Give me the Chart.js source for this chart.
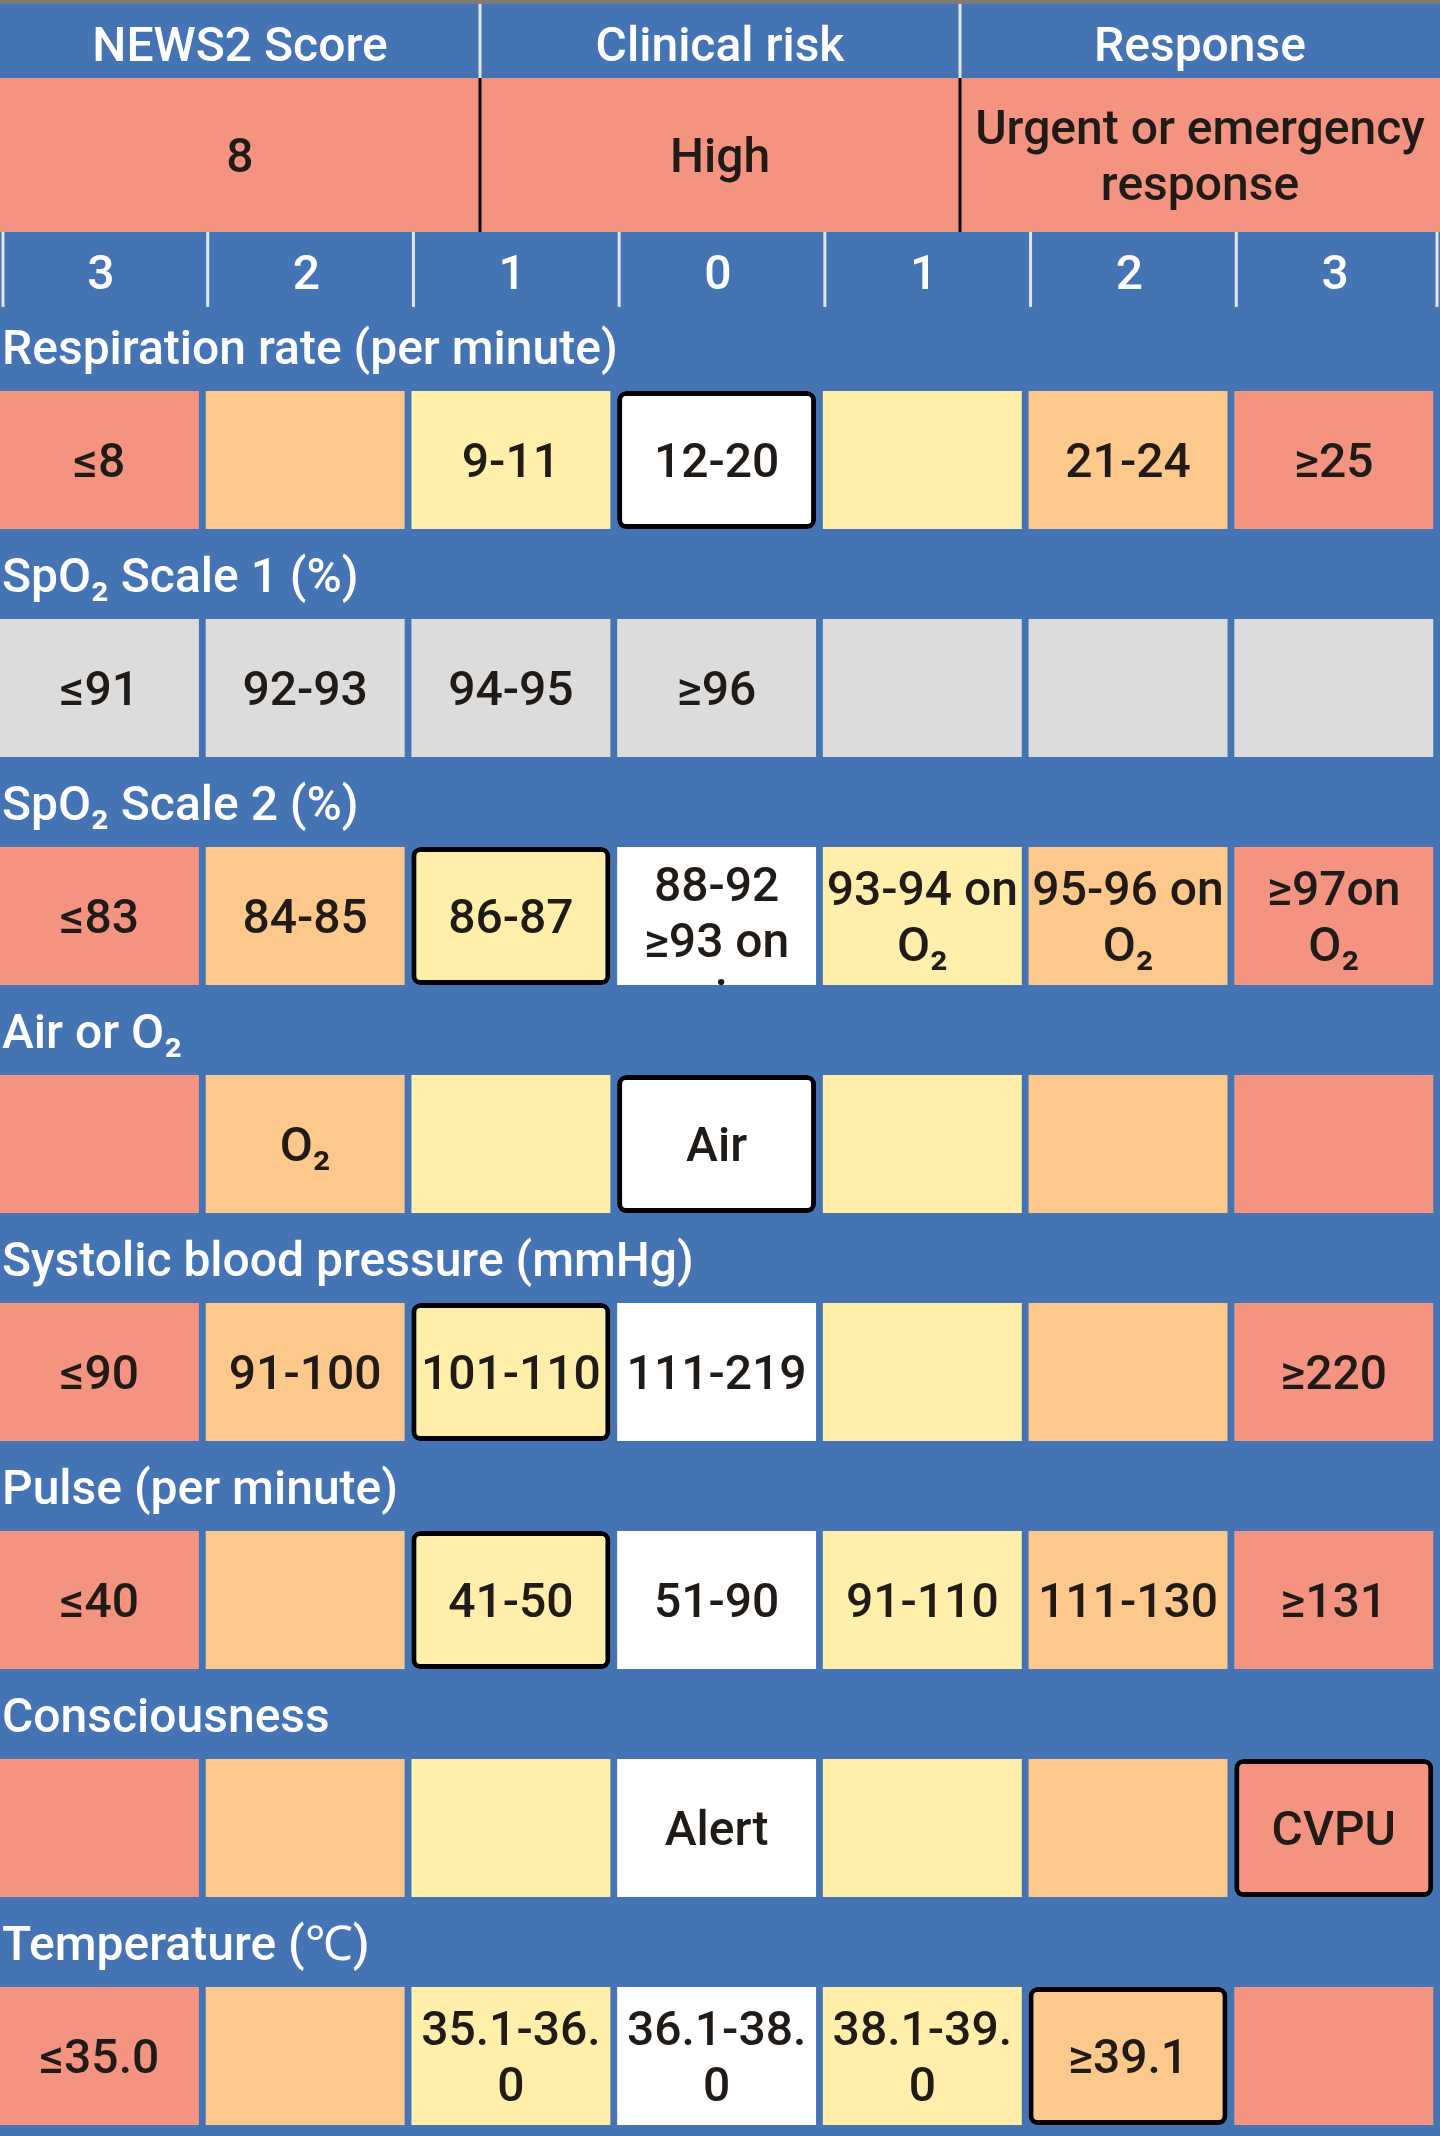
<!DOCTYPE html>
<html>
<head>
<meta charset="utf-8">
<script src="https://cdn.jsdelivr.net/npm/chart.js@4.4.1/dist/chart.umd.min.js"></script>
<style>
  html, body { margin: 0; padding: 0; background: #4574B5; }
  #wrap { position: relative; width: 1440px; height: 2136px; }
</style>
</head>
<body>
<div id="wrap"><canvas id="news2"></canvas></div>
<script>
// NEWS2 chart: one row of bands per observation, columns are the score bands
const scoreColumns = [3, 2, 1, 0, 1, 2, 3];
const summaryTitles = ['NEWS2 Score', 'Clinical risk', 'Response'];
const summaryValues = ['8', 'High', 'Urgent or emergency response'];

const parameters = [
  'Respiration rate (per minute)',
  'SpO₂ Scale 1 (%)',
  'SpO₂ Scale 2 (%)',
  'Air or O₂',
  'Systolic blood pressure (mmHg)',
  'Pulse (per minute)',
  'Consciousness',
  'Temperature (℃)'
];

const respiration = ['≤8', '', '9-11', '12-20', '', '21-24', '≥25'];
const spo2Scale1 = ['≤91', '92-93', '94-95', '≥96', '', '', ''];
const spo2Scale2 = ['≤83', '84-85', '86-87', '88-92 ≥93 on air', '93-94 on O₂', '95-96 on O₂', '≥97on O₂'];
const airOrO2 = ['', 'O₂', '', 'Air', '', '', ''];
const systolic = ['≤90', '91-100', '101-110', '111-219', '', '', '≥220'];
const pulse = ['≤40', '', '41-50', '51-90', '91-110', '111-130', '≥131'];
const consciousness = ['', '', '', 'Alert', '', '', 'CVPU'];
const temperature = ['≤35.0', '', '35.1-36.0', '36.1-38.0', '38.1-39.0', '≥39.1', ''];

const rows = [respiration, spo2Scale1, spo2Scale2, airOrO2, systolic, pulse, consciousness, temperature];

// picked column per row (-1 = nothing picked); greyed rows are not in use
const selected = [3, -1, 2, 3, 2, 2, 6, 5];
const inactiveRows = [1];

// colours
const BLUE = '#4574B5';
const GREY = '#DCDCDC';
const INK = '#211B17';
const bandColors = { 3: '#F39380', 2: '#FDC88C', 1: '#FFEFAA', 0: '#FFFFFF' };

// layout, in axis units (1 y unit = one observation row)
const Y_MIN = -1.3202, Y_MAX = 8.048;
const LABEL_H = 0.395;   // label strip above the cells
const CELL_W = 0.967;    // cell width as part of a column
const HEAD = { top: -1.3026, title: -0.978, risk: -0.3026, score: 0.026 };
const FONT = '500 48px Roboto';
const CAP_HALF = 17;     // half the cap height at 48px
const LINE_H = 56;

function wrapText(ctx, text, maxWidth) {
  const lines = [];
  let line = '';
  for (const word of text.split(' ')) {
    const trial = line ? line + ' ' + word : word;
    if (ctx.measureText(trial).width <= maxWidth) { line = trial; continue; }
    if (line) lines.push(line);
    let chunk = '';
    for (const ch of word) {
      if (chunk && ctx.measureText(chunk + ch).width > maxWidth) { lines.push(chunk); chunk = ch; }
      else chunk += ch;
    }
    line = chunk;
  }
  if (line) lines.push(line);
  return lines;
}

function drawBlock(ctx, text, cx, top, bottom, maxWidth) {
  const lines = wrapText(ctx, text, maxWidth);
  const blockH = lines.length * LINE_H;
  let first = (top + bottom) / 2 - (lines.length - 1) * LINE_H / 2;
  if (blockH > bottom - top) first = top + 9 + LINE_H / 2;
  lines.forEach((l, k) => ctx.fillText(l, cx, first + k * LINE_H + CAP_HALF));
}

const tablePlugin = {
  id: 'news2Table',
  beforeDraw(chart) {
    const { ctx, width, height } = chart;
    const { x, y } = chart.scales;
    ctx.save();
    ctx.fillStyle = BLUE;
    ctx.fillRect(0, 0, width, height);
    ctx.fillStyle = '#7B7B7B';
    ctx.fillRect(0, 0, width, y.getPixelForValue(HEAD.top));

    const left = x.getPixelForValue(0), right = x.getPixelForValue(7);
    const yTitle = y.getPixelForValue(HEAD.top), yRisk0 = y.getPixelForValue(HEAD.title);
    const yRisk1 = y.getPixelForValue(HEAD.risk), yScore1 = y.getPixelForValue(HEAD.score);

    // summary band, coloured by its risk
    ctx.fillStyle = bandColors[3];
    ctx.fillRect(left, yRisk0, right - left, yRisk1 - yRisk0);

    ctx.lineWidth = 3;
    for (let k = 1; k < 3; k++) {
      const px = x.getPixelForValue(7 * k / 3);
      ctx.strokeStyle = '#E3E7EE';
      ctx.beginPath(); ctx.moveTo(px, yTitle); ctx.lineTo(px, yRisk0); ctx.stroke();
      ctx.strokeStyle = '#000';
      ctx.beginPath(); ctx.moveTo(px, yRisk0); ctx.lineTo(px, yRisk1); ctx.stroke();
    }
    ctx.strokeStyle = '#E3E7EE';
    for (let c = 0; c <= 7; c++) {
      const px = Math.min(Math.max(x.getPixelForValue(c) + 2, 3), width - 3);
      ctx.beginPath(); ctx.moveTo(px, yRisk1); ctx.lineTo(px, yScore1); ctx.stroke();
    }

    ctx.font = FONT;
    ctx.textAlign = 'center';
    ctx.textBaseline = 'alphabetic';
    summaryTitles.forEach((t, k) => {
      const cx = x.getPixelForValue(7 * (k + 0.5) / 3);
      ctx.fillStyle = '#FFFFFF';
      ctx.fillText(t, cx, (yTitle + yRisk0) / 2 + 3 + CAP_HALF);
      ctx.fillStyle = INK;
      drawBlock(ctx, summaryValues[k], cx, yRisk0, yRisk1, x.getPixelForValue(7 / 3) - 10);
    });
    ctx.fillStyle = '#FFFFFF';
    scoreColumns.forEach((s, c) => {
      ctx.fillText(String(s), x.getPixelForValue(c + 0.49), y.getPixelForValue(-0.127) + CAP_HALF);
    });

    ctx.textAlign = 'left';
    parameters.forEach((p, i) => {
      ctx.fillText(p, left + 2, y.getPixelForValue(i + 0.2018) + CAP_HALF);
    });
    ctx.restore();
  },
  afterDatasetsDraw(chart) {
    const { ctx } = chart;
    ctx.save();
    ctx.font = FONT;
    ctx.textAlign = 'center';
    ctx.textBaseline = 'alphabetic';
    ctx.fillStyle = INK;
    chart.data.datasets.forEach((ds, i) => {
      chart.getDatasetMeta(i).data.forEach((bar, c) => {
        const text = rows[i][c];
        if (!text) return;
        const { x, y, base, width } = bar.getProps(['x', 'y', 'base', 'width'], true);
        const top = Math.min(y, base), bottom = Math.max(y, base);
        ctx.save();
        ctx.beginPath();
        ctx.rect(x - width / 2, top, width, bottom - top);
        ctx.clip();
        drawBlock(ctx, text, x, top, bottom, width - 3);
        ctx.restore();
      });
    });
    ctx.restore();
  }
};

const datasets = rows.map((cells, i) => ({
  label: parameters[i],
  data: cells.map((t, c) => ({ x: c + CELL_W / 2, y: [i + LABEL_H, i + 1] })),
  grouped: false,
  barPercentage: CELL_W,
  categoryPercentage: 1,
  backgroundColor: (ctx) => inactiveRows.includes(ctx.datasetIndex) ? GREY : bandColors[scoreColumns[ctx.dataIndex]],
  borderColor: '#000000',
  borderWidth: (ctx) => selected[ctx.datasetIndex] === ctx.dataIndex ? 5 : 0,
  borderRadius: (ctx) => selected[ctx.datasetIndex] === ctx.dataIndex ? 9 : 0,
  borderSkipped: false
}));

function render() {
  new Chart(document.getElementById('news2'), {
    type: 'bar',
    data: { datasets },
    options: {
      responsive: true,
      maintainAspectRatio: false,
      animation: false,
      devicePixelRatio: 1,
      events: [],
      layout: { padding: 0 },
      plugins: { legend: { display: false }, tooltip: { enabled: false } },
      scales: {
        x: { type: 'linear', min: 0, max: 7, offset: false, display: false, ticks: { stepSize: 1 } },
        y: { type: 'linear', min: Y_MIN, max: Y_MAX, reverse: true, display: false }
      }
    },
    plugins: [tablePlugin]
  });
}

document.fonts.load(FONT).then(render, render);
</script>
</body>
</html>
